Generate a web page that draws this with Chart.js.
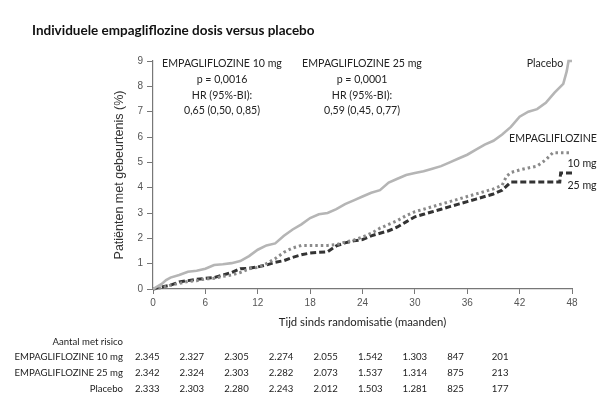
<!DOCTYPE html>
<html><head><meta charset="utf-8">
<script src="https://cdn.jsdelivr.net/npm/chart.js@4"></script>
<style>
html,body{margin:0;padding:0;background:#fff;}
#wrap{position:relative;width:605px;height:419px;overflow:hidden;font-family:Lato, sans-serif;color:#222;}
canvas{position:absolute;left:0;top:0;}
.t{position:absolute;white-space:nowrap;line-height:1;}
.c{transform:translate(-50%,-50%);}
.r{transform:translate(-100%,-50%);text-align:right;}
.l{transform:translate(0,-50%);}
</style></head><body>
<div id="wrap">
<canvas id="c"></canvas>
<div id="title" class="t" style="left:32px;top:24px;font-weight:bold;font-size:13.5px;color:#111;">Individuele empagliflozine dosis versus placebo</div>
<div id="ann"></div>
<div id="table"></div>
</div>
<script>
// ---- data ----
const xTicks = [0, 6, 12, 18, 24, 30, 36, 42, 48];
const yTicks = [0, 1, 2, 3, 4, 5, 6, 7, 8, 9];

const placeboMonths = [0,1,1.5,2,3,4,5,6,7,8,9,10,11,12,13,14,15,16,17,18,19,20,21,22,23,24,25,26,27,28,29,30,31,32,33,34,35,36,37,38,39,40,41,42,43,44,45,46,47,47.4,47.6,48];
const placeboPct    = [0,0.2,0.35,0.45,0.55,0.68,0.72,0.8,0.95,0.98,1.02,1.1,1.3,1.55,1.72,1.8,2.1,2.35,2.55,2.8,2.95,3.0,3.15,3.35,3.5,3.65,3.8,3.9,4.2,4.35,4.5,4.58,4.65,4.75,4.85,5.0,5.15,5.3,5.5,5.7,5.85,6.1,6.4,6.8,7.0,7.1,7.35,7.75,8.1,8.6,9.0,9.0];

const empa10Months = [0,1,2,3,4,5,6,7,8,9,10,11,12,13,14,15,16,17,18,19,20,21,22,23,24,25,26,27,28,29,30,31,32,33,34,35,36,37,38,39,40,40.5,41,42,43,44,45,45.8,47.8];
const empa10Pct    = [0,0.05,0.15,0.22,0.3,0.33,0.4,0.42,0.5,0.55,0.65,0.8,0.85,1.0,1.2,1.45,1.62,1.72,1.72,1.72,1.72,1.75,1.85,1.93,2.05,2.2,2.4,2.55,2.7,2.9,3.05,3.15,3.25,3.35,3.45,3.55,3.65,3.75,3.85,3.95,4.1,4.45,4.6,4.7,4.78,4.85,5.1,5.38,5.38];

const empa25Months = [0,1,2,3,4,5,6,7,8,9,10,11,12,13,14,15,16,17,18,19,20,21,22,23,24,25,26,27,28,29,30,31,32,33,34,35,36,37,38,39,40,41,46.6,46.7,48];
const empa25Pct    = [0,0.08,0.15,0.28,0.33,0.38,0.42,0.45,0.55,0.65,0.8,0.82,0.87,0.95,1.05,1.12,1.25,1.35,1.42,1.45,1.47,1.7,1.82,1.9,1.95,2.1,2.2,2.3,2.45,2.65,2.85,2.95,3.05,3.15,3.25,3.35,3.45,3.55,3.65,3.75,3.9,4.22,4.22,4.58,4.58];

const riskHeader = "Aantal met risico";
const riskLabels = ["EMPAGLIFLOZINE 10 mg", "EMPAGLIFLOZINE 25 mg", "Placebo"];
const risk10 = ["2.345","2.327","2.305","2.274","2.055","1.542","1.303","847","201"];
const risk25 = ["2.342","2.324","2.303","2.282","2.073","1.537","1.314","875","213"];
const riskPlacebo = ["2.333","2.303","2.280","2.243","2.012","1.503","1.281","825","177"];

const ann10 = ["EMPAGLIFLOZINE 10 mg", "p = 0,0016", "HR (95%-BI):", "0,65 (0,50, 0,85)"];
const ann25 = ["EMPAGLIFLOZINE 25 mg", "p = 0,0001", "HR (95%-BI):", "0,59 (0,45, 0,77)"];

// ---- html text ----
function addText(parent, txt, cls, x, y, style) {
  const d = document.createElement('div');
  d.className = 't ' + cls;
  d.style.left = x + 'px'; d.style.top = y + 'px';
  d.style.cssText += style || '';
  d.textContent = txt;
  parent.appendChild(d);
}
const ann = document.getElementById('ann');
const annFont = 'font-size:10.6px;color:#222;';
const annY = [63, 79, 95, 110];
ann10.forEach((s,i)=>addText(ann, s, 'c', 222, annY[i], annFont));
ann25.forEach((s,i)=>addText(ann, s, 'c', 362, annY[i], annFont));
addText(ann, 'Placebo', 'c', 545, 63, annFont);
addText(ann, 'EMPAGLIFLOZINE', 'c', 553, 138, annFont);
addText(ann, '10 mg', 'c', 582, 163, annFont);
addText(ann, '25 mg', 'c', 582, 185, annFont);

const tbl = document.getElementById('table');
const tFont = 'font-size:9.6px;color:#222;';
addText(tbl, riskHeader, 'r', 123, 342, tFont);
const rows = [risk10, risk25, riskPlacebo];
const rowY = [357, 373, 389];
rows.forEach((vals, r) => {
  addText(tbl, riskLabels[r], 'r', 123, rowY[r], tFont);
  vals.forEach((v, i) => addText(tbl, v, 'l', 135 + 44.6 * i, rowY[r], tFont));
});

// ---- chart ----
const pts = (ms, vs) => ms.map((m, i) => ({x: m, y: vs[i]}));
const canvas = document.getElementById('c');
canvas.style.width = '605px'; canvas.style.height = '419px';
const tickFont = {family: 'Liberation Sans', size: 10};
new Chart(canvas, {
  type: 'line',
  data: {
    datasets: [
      {label: 'Placebo', data: pts(placeboMonths, placeboPct), borderColor: '#b5b5b5', borderWidth: 2.6, pointRadius: 0, tension: 0, clip: 6},
      {label: 'EMPAGLIFLOZINE 10 mg', data: pts(empa10Months, empa10Pct), borderColor: '#8a8a8a', borderWidth: 3, borderDash: [2.5, 3], pointRadius: 0, tension: 0, clip: 6},
      {label: 'EMPAGLIFLOZINE 25 mg', data: pts(empa25Months, empa25Pct), borderColor: '#333333', borderWidth: 3, borderDash: [6, 3], pointRadius: 0, tension: 0, clip: 6}
    ]
  },
  options: {
    responsive: false,
    animation: false,
    devicePixelRatio: 1,
    layout: {padding: {left: 108, right: 33, top: 61, bottom: 90}},
    plugins: {legend: {display: false}, tooltip: {enabled: false}},
    scales: {
      x: {
        type: 'linear', min: 0, max: 48,
        afterBuildTicks: s => { s.ticks = xTicks.map(v => ({value: v})); },
        ticks: {color: '#555', font: tickFont, padding: 3, maxRotation: 0},
        grid: {drawOnChartArea: false, drawTicks: true, tickLength: 5, color: '#777', lineWidth: 1},
        border: {color: '#777', width: 1.2},
        title: {display: true, text: 'Tijd sinds randomisatie (maanden)', color: '#222', font: {family: 'Lato', size: 11.3}, padding: {top: 0, bottom: 0}},
        afterFit: s => { s.height = 40; }
      },
      y: {
        min: 0, max: 9,
        afterBuildTicks: s => { s.ticks = yTicks.map(v => ({value: v})); },
        ticks: {color: '#555', font: tickFont, padding: 4},
        grid: {drawOnChartArea: false, drawTicks: true, tickLength: 6, color: '#777', lineWidth: 1},
        border: {color: '#777', width: 1.2},
        title: {display: true, text: 'Patiënten met gebeurtenis (%)', color: '#333', font: {family: 'Liberation Sans', size: 12.5}, padding: {top: 4, bottom: 0}},
        afterFit: s => { s.width = 45; }
      }
    }
  }
});
</script>
</body></html>
